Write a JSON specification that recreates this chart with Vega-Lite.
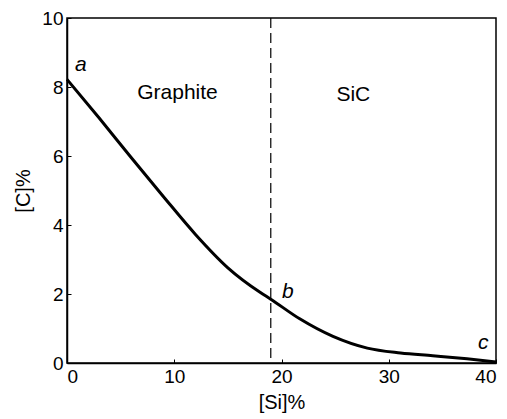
{
  "$schema": "https://vega.github.io/schema/vega-lite/v6.json",
  "width": 429,
  "height": 345,
  "autosize": {"type": "none"},
  "padding": {"left": 67, "top": 18, "right": 11, "bottom": 56},
  "background": "white",
  "config": {
    "view": {"stroke": "black", "strokeWidth": 1.5},
    "font": "Liberation Sans",
    "axis": {
      "grid": false,
      "domainColor": "black",
      "domainWidth": 1.5,
      "tickColor": "black",
      "tickSize": -4,
      "labelColor": "black",
      "titleColor": "black",
      "labelFont": "Liberation Sans",
      "titleFont": "Liberation Sans",
      "labelFontSize": 19,
      "titleFontSize": 20,
      "titleFontWeight": "normal"
    }
  },
  "datasets": {
    "curve": [
      {"si": 0, "c": 8.22},
      {"si": 3, "c": 7.1},
      {"si": 6, "c": 5.95},
      {"si": 9, "c": 4.82},
      {"si": 12, "c": 3.72},
      {"si": 15, "c": 2.76},
      {"si": 18, "c": 2.05},
      {"si": 19.0, "c": 1.85},
      {"si": 21.7, "c": 1.28},
      {"si": 24.8, "c": 0.77},
      {"si": 28.0, "c": 0.43},
      {"si": 31.1, "c": 0.29},
      {"si": 34.1, "c": 0.21},
      {"si": 37.3, "c": 0.12},
      {"si": 40, "c": 0.03}
    ],
    "labels": [
      {"si": 1.3, "c": 8.64, "t": "a", "style": "italic"},
      {"si": 20.6, "c": 2.06, "t": "b", "style": "italic"},
      {"si": 38.8, "c": 0.58, "t": "c", "style": "italic"},
      {"si": 10.3, "c": 7.83, "t": "Graphite", "style": "normal"},
      {"si": 26.7, "c": 7.77, "t": "SiC", "style": "normal"}
    ],
    "boundary": [{"si": 19}]
  },
  "layer": [
    {
      "data": {"name": "boundary"},
      "mark": {"type": "rule", "color": "black", "strokeWidth": 1.2, "strokeDash": [10, 5]},
      "encoding": {
        "x": {"field": "si", "type": "quantitative", "scale": {"domain": [0, 40]}}
      }
    },
    {
      "data": {"name": "curve"},
      "mark": {"type": "line", "color": "black", "strokeWidth": 3, "interpolate": "monotone"},
      "encoding": {
        "x": {
          "field": "si", "type": "quantitative",
          "scale": {"domain": [0, 40], "nice": false},
          "axis": {"values": [0, 10, 20, 30, 40], "title": "[Si]%", "labelPadding": 8, "titlePadding": 6}
        },
        "y": {
          "field": "c", "type": "quantitative",
          "scale": {"domain": [0, 10], "nice": false},
          "axis": {"values": [0, 2, 4, 6, 8, 10], "title": "[C]%", "labelPadding": 8, "titlePadding": 8}
        }
      }
    },
    {
      "data": {"name": "labels"},
      "transform": [{"filter": "datum.style == 'italic'"}],
      "mark": {"type": "text", "fontSize": 21, "fontStyle": "italic", "color": "black"},
      "encoding": {
        "x": {"field": "si", "type": "quantitative"},
        "y": {"field": "c", "type": "quantitative"},
        "text": {"field": "t"}
      }
    },
    {
      "data": {"name": "labels"},
      "transform": [{"filter": "datum.style == 'normal'"}],
      "mark": {"type": "text", "fontSize": 21, "color": "black"},
      "encoding": {
        "x": {"field": "si", "type": "quantitative"},
        "y": {"field": "c", "type": "quantitative"},
        "text": {"field": "t"}
      }
    }
  ]
}
